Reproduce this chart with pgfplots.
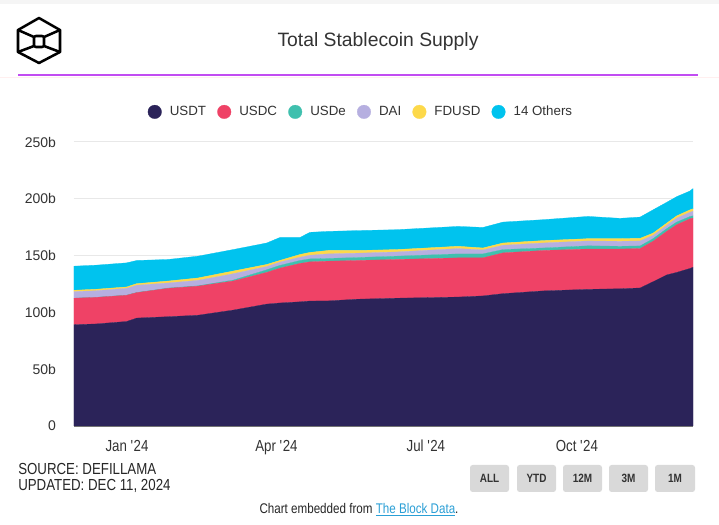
\documentclass[border=0pt]{standalone}
\usepackage{fontspec}
\setmainfont{Liberation Sans}
\newfontfamily\condensed[FakeStretch=0.83]{Liberation Sans}
\usepackage{pgfplots}
\pgfplotsset{compat=1.18}
\usepackage{pgfplotstable}
\definecolor{usdt}{HTML}{2B2359}
\definecolor{usdc}{HTML}{EF4266}
\definecolor{usde}{HTML}{3FC0AE}
\definecolor{dai}{HTML}{B6AFE0}
\definecolor{fdusd}{HTML}{FDD94A}
\definecolor{oth}{HTML}{00C3EE}
\definecolor{sep}{HTML}{C24CF2}
\definecolor{btn}{HTML}{D9D9D9}
\definecolor{linkblue}{HTML}{2A9FD6}
\definecolor{txt}{HTML}{333333}
\pgfplotsset{circlegend/.style={legend image code/.code={\fill[##1] (0pt,0pt) circle (5.1pt);}}}

% days since 1 Jan 2024; values in billions USD
\pgfplotstableread{
d      usdt   usdc  usde  dai  fdusd  oth
-32.3  89.2   23.3  0.0   5.8  1.2    21.2
-19.1  89.8   23.4  0.05  5.8  1.3    21.2
-0.2   92.0   23.1  0.1   6.0  1.2    21.2
5.9    95.0   22.4  0.1   6.4  1.4    20.4
25.0   96.2   25.0  0.2   4.5  1.7    19.0
43.2   97.5   25.6  0.3   4.8  2.1    19.2
64.6   102.0  25.6  0.8   5.6  2.4    18.9
85.1   107.3  27.9  2.3   2.9  1.8    18.9
93.2   108.3  30.7  2.4   2.9  1.5    20.2
105.4  109.3  33.8  2.6   2.9  2.4    15.0
111.4  110.0  34.5  2.6   3.2  2.5    17.7
122.4  110.1  35.0  2.4   4.0  3.0    16.8
140.0  111.6  34.1  2.6   3.8  2.4    17.5
164.2  112.5  34.1  2.9   3.7  2.1    17.5
201.6  113.5  34.5  3.5   4.7  2.0    17.5
216.8  114.5  33.5  3.5   3.5  1.7    18.1
229.0  116.5  35.9  2.9   3.8  2.0    18.4
253.3  118.9  35.6  2.2   4.4  2.1    18.4
280.8  120.3  35.5  2.8   4.3  2.0    19.6
300.2  120.8  35.0  2.4   4.4  2.3    17.9
312.5  121.5  34.7  2.3   4.4  2.3    18.7
320.4  127.0  35.6  2.3   2.9  2.0    20.5
328.7  133.0  38.3  2.4   2.9  2.0    18.3
334.8  135.2  42.0  2.3   3.5  2.0    16.9
342.9  138.7  43.7  2.0   3.8  2.1    16.6
344.7  139.7  43.3  2.0   4.0  2.2    17.8
}\data

\begin{document}
\begin{tikzpicture}
\path[use as bounding box] (0pt,0pt) rectangle (539.25pt,393.75pt);
\fill[white] (0pt,0pt) rectangle (539.25pt,393.75pt);
\fill[black!4] (0pt,390.75pt) rectangle (539.25pt,393.75pt);
% logo
\begin{scope}[line width=1.9pt, line join=round, line cap=round]
\draw (29.25pt,380.25pt) -- (45pt,371.25pt) -- (45pt,354.75pt) -- (29.25pt,346.5pt) -- (13.5pt,354.75pt) -- (13.5pt,371.25pt) -- cycle;
\draw (13.5pt,371.25pt) -- (25.5pt,366pt);
\draw (45pt,371.25pt) -- (33pt,366pt);
\draw (13.5pt,354.75pt) -- (25.5pt,359.25pt);
\draw (45pt,354.75pt) -- (33pt,359.25pt);
\draw[rounded corners=1.5pt] (25.5pt,358.5pt) rectangle (33pt,366.75pt);
\end{scope}
% title
\node[font=\fontsize{14.5}{17}\selectfont, text=txt] at (283.5pt,362.25pt) {Total Stablecoin Supply};
\draw[pink!25, line width=0.75pt] (0pt,335.6pt) -- (539.25pt,335.6pt);
\draw[sep, line width=1.5pt] (13.5pt,337.5pt) -- (523.5pt,337.5pt);

\begin{axis}[
  at={(55.5pt,74.25pt)}, anchor=south west,
  width=464.25pt, height=213pt, scale only axis,
  xmin=-32.3, xmax=344.7, ymin=0, ymax=250,
  stack plots=y,
  axis x line*=bottom, axis y line*=left,
  x axis line style={draw=black!55, line width=1pt, -},
  y axis line style={draw=none},
  xtick={0,91,182,274},
  xticklabels={Jan \textquotesingle24, Apr \textquotesingle24, Jul \textquotesingle24, Oct \textquotesingle24},
  ytick={0,50,100,150,200,250},
  yticklabels={0,50b,100b,150b,200b,250b},
  major tick length=0pt,
  ymajorgrids, grid style={draw=black!9, line width=0.75pt},
  xticklabel style={font=\condensed\fontsize{12}{13}\selectfont, text=txt, yshift=-7pt},
  yticklabel style={font=\fontsize{10.5}{12}\selectfont, text=txt, xshift=-10pt},
  circlegend,
  legend columns=6,
  legend style={at={(0.462,1.106)}, anchor=center, draw=none, fill=none,
    font=\fontsize{10}{12}\selectfont, text=txt, nodes={inner xsep=0pt},
    /tikz/every odd column/.append style={column sep=6.1pt},
    /tikz/every even column/.append style={column sep=8.4pt}},
]
\addplot[fill=usdt, draw=usdt, line width=0.2pt] table[x=d,y=usdt]{\data} \closedcycle;
\addlegendentry{USDT}
\addplot[fill=usdc, draw=usdc, line width=0.2pt] table[x=d,y=usdc]{\data} \closedcycle;
\addlegendentry{USDC}
\addplot[fill=usde, draw=usde, line width=0.2pt] table[x=d,y=usde]{\data} \closedcycle;
\addlegendentry{USDe}
\addplot[fill=dai, draw=dai, line width=0.2pt] table[x=d,y=dai]{\data} \closedcycle;
\addlegendentry{DAI}
\addplot[fill=fdusd, draw=fdusd, line width=0.2pt] table[x=d,y=fdusd]{\data} \closedcycle;
\addlegendentry{FDUSD}
\addplot[fill=oth, draw=oth, line width=0.2pt] table[x=d,y=oth]{\data} \closedcycle;
\addlegendentry{14 Others}
\end{axis}

% footer
\node[anchor=west, inner sep=0pt, font=\condensed\fontsize{12}{13}\selectfont, text=black!85] at (13.5pt,41.9pt) {SOURCE: DEFILLAMA};
\node[anchor=west, inner sep=0pt, font=\condensed\fontsize{12}{13}\selectfont, text=black!85] at (13.5pt,29.6pt) {UPDATED: DEC 11, 2024};
\foreach \a/\b/\t in {352.5/381.75/ALL, 387.75/417/YTD, 422.25/451.5/12M, 456.75/486/3M, 491.25/521.25/1M}{
  \pgfmathsetmacro\m{(\a+\b)/2}
  \fill[btn, rounded corners=2pt] (\a pt,24.75pt) rectangle (\b pt,45pt);
  \node[font=\condensed\bfseries\fontsize{9}{10}\selectfont, text=txt] at (\m pt,34.9pt) {\t};
}
\node[font=\condensed\fontsize{10.5}{12}\selectfont, text=black!85] at (269.25pt,11.5pt) {Chart embedded from \textcolor{linkblue}{\underline{The Block Data}}.};
\end{tikzpicture}
\end{document}
